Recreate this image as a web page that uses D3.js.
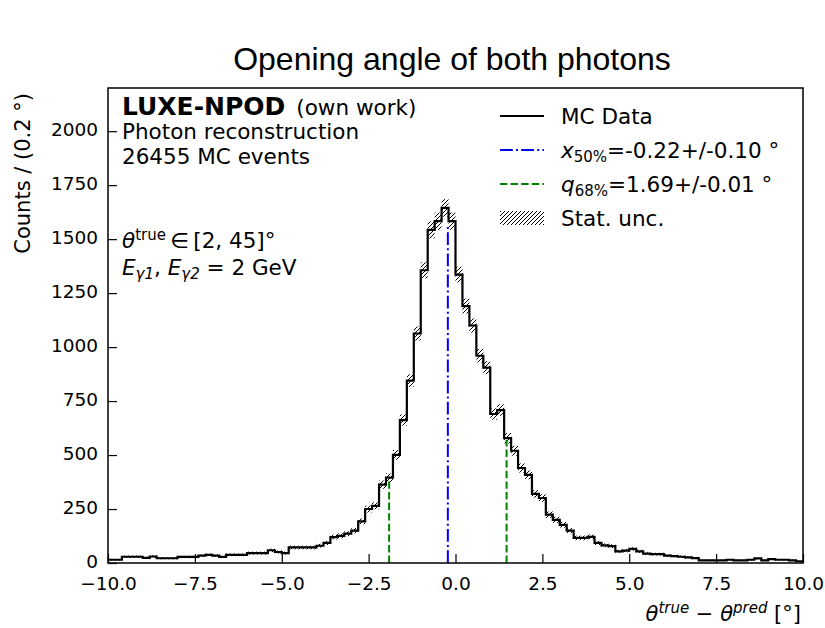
<!DOCTYPE html>
<html>
<head>
<meta charset="utf-8">
<script src="https://cdn.jsdelivr.net/npm/d3@7"></script>
<style>
  body { margin: 0; background: #fff; }
  text { font-family: "DejaVu Sans", sans-serif; fill: #000; }
</style>
</head>
<body>
<svg id="chart" width="825" height="628"></svg>
<script>
// Histogram of the opening-angle residual, 0.2 degree bins from -10 to 10
const binStart = -10;
const binWidth = 0.2;
const counts = [
  15, 15, 29, 29, 29, 24, 30, 22, 22, 22,
  28, 28, 28, 34, 38, 34, 28, 38, 38, 38,
  46, 46, 46, 59, 51, 46, 72, 72, 72, 72,
  80, 93, 120, 126, 136, 150, 193, 250, 265, 363,
  395, 501, 662, 845, 1063, 1356, 1543, 1583, 1645, 1583,
  1336, 1190, 1100, 960, 905, 690, 708, 578, 520, 440,
  408, 320, 301, 224, 200, 177, 150, 116, 116, 121,
  93, 82, 78, 54, 57, 65, 54, 43, 41, 41,
  34, 32, 29, 26, 23, 12, 12, 12, 12, 15,
  12, 12, 15, 21, 12, 18, 15, 15, 12, 8
];

// Summary statistics shown in the legend
const medianValue = -0.22, medianErr = 0.10;
const q68Value = 1.69, q68Err = 0.01;
// Heights the marker lines are drawn up to
const medianLineTop = 1560;
const q68LineTops = [385, 570];

const nEvents = 26455;

const xMajorTicks = [-10, -7.5, -5, -2.5, 0, 2.5, 5, 7.5, 10];
const yMajorTicks = [0, 250, 500, 750, 1000, 1250, 1500, 1750, 2000];

const W = 825, H = 628;
const margin = { left: 108, right: 22, top: 88, bottom: 65 };
const plotW = W - margin.left - margin.right;
const plotH = H - margin.top - margin.bottom;

const svg = d3.select("#chart");

const x = d3.scaleLinear().domain([-10, 10]).range([margin.left, margin.left + plotW]);
const y = d3.scaleLinear().domain([0, 2200]).range([margin.top + plotH, margin.top]);

// Hatch pattern for the statistical uncertainty band
const defs = svg.append("defs");
const pat = defs.append("pattern")
  .attr("id", "hatch")
  .attr("patternUnits", "userSpaceOnUse")
  .attr("width", 4).attr("height", 4);
pat.append("path")
  .attr("d", "M-1,1 L1,-1 M0,4 L4,0 M3,5 L5,3")
  .attr("stroke", "#000").attr("stroke-width", 1);

defs.append("clipPath").attr("id", "plotClip")
  .append("rect")
  .attr("x", margin.left).attr("y", margin.top)
  .attr("width", plotW).attr("height", plotH);

const bins = counts.map((c, i) => ({
  x0: binStart + i * binWidth,
  x1: binStart + (i + 1) * binWidth,
  n: c
}));

const plot = svg.append("g").attr("clip-path", "url(#plotClip)");

// Stat. unc. band: +/- sqrt(N) per bin
plot.append("g").selectAll("rect")
  .data(bins)
  .join("rect")
  .attr("x", d => x(d.x0))
  .attr("width", d => x(d.x1) - x(d.x0))
  .attr("y", d => y(d.n + Math.sqrt(d.n)))
  .attr("height", d => y(d.n - Math.sqrt(d.n)) - y(d.n + Math.sqrt(d.n)))
  .attr("fill", "url(#hatch)");

// Step outline of the histogram
const stepPts = [[bins[0].x0, 0]];
bins.forEach(d => { stepPts.push([d.x0, d.n]); stepPts.push([d.x1, d.n]); });
stepPts.push([bins[bins.length - 1].x1, 0]);
const line = d3.line().x(d => x(d[0])).y(d => y(d[1]));
plot.append("path")
  .attr("d", line(stepPts))
  .attr("fill", "none")
  .attr("stroke", "#000")
  .attr("stroke-width", 2.2)
  .attr("stroke-linejoin", "miter");

// Median marker
plot.append("line")
  .attr("x1", x(medianValue)).attr("x2", x(medianValue))
  .attr("y1", y(0)).attr("y2", y(medianLineTop))
  .attr("stroke", "#0000ff").attr("stroke-width", 2)
  .attr("stroke-dasharray", "12.8,3.2,2,3.2");

// 68% quantile markers around the median
[medianValue - q68Value, medianValue + q68Value].forEach((v, i) => {
  plot.append("line")
    .attr("x1", x(v)).attr("x2", x(v))
    .attr("y1", y(0)).attr("y2", y(q68LineTops[i]))
    .attr("stroke", "#008000").attr("stroke-width", 2)
    .attr("stroke-dasharray", "7.4,3.2");
});

// Axes with inward ticks
const xMinor = d3.range(-10, 10.001, 0.5);
const yMinor = d3.range(0, 2200.001, 50);

const gx = svg.append("g").attr("transform", `translate(0,${margin.top + plotH})`);
gx.call(d3.axisBottom(x).tickValues(xMinor).tickSize(-5).tickFormat(""));
gx.call(d3.axisBottom(x).tickValues(xMajorTicks).tickSize(-9).tickPadding(14).tickFormat(d3.format(".1f")));
gx.selectAll(".domain").remove();
gx.selectAll("line").attr("stroke", "#000").attr("stroke-width", 1.2);
gx.selectAll("text").attr("font-size", 18.5).attr("font-family", "DejaVu Sans").attr("fill", "#000");

const gy = svg.append("g").attr("transform", `translate(${margin.left},0)`);
gy.call(d3.axisLeft(y).tickValues(yMinor).tickSize(-5).tickFormat(""));
gy.call(d3.axisLeft(y).tickValues(yMajorTicks).tickSize(-9).tickPadding(10).tickFormat(d3.format("d")));
gy.selectAll(".domain").remove();
gy.selectAll("line").attr("stroke", "#000").attr("stroke-width", 1.2);
gy.selectAll("text").attr("font-size", 18.5).attr("font-family", "DejaVu Sans").attr("fill", "#000")
  .attr("dy", "0.26em");

// Frame
svg.append("rect")
  .attr("x", margin.left).attr("y", margin.top)
  .attr("width", plotW).attr("height", plotH)
  .attr("fill", "none").attr("stroke", "#000").attr("stroke-width", 1.5);

// Title
svg.append("text")
  .attr("x", 452).attr("y", 70)
  .attr("text-anchor", "middle")
  .style("font-family", "'Liberation Sans', Arial, sans-serif")
  .attr("font-size", 32)
  .text("Opening angle of both photons");

// Axis labels
svg.append("text")
  .attr("transform", `translate(30,${margin.top + 5}) rotate(-90)`)
  .attr("text-anchor", "end")
  .attr("font-size", 21)
  .text("Counts / (0.2 °)");

const xl = svg.append("text")
  .attr("x", margin.left + plotW - 2).attr("y", 621)
  .attr("text-anchor", "end")
  .attr("font-size", 21);
xl.append("tspan").attr("font-style", "italic").text("θ");
xl.append("tspan").attr("font-style", "italic").attr("font-size", 15).attr("dy", -8).text("true");
xl.append("tspan").attr("dy", 8).text(" − ");
xl.append("tspan").attr("font-style", "italic").text("θ");
xl.append("tspan").attr("font-style", "italic").attr("font-size", 15).attr("dy", -8).text("pred");
xl.append("tspan").attr("dy", 8).text(" [°]");

// Experiment label and selection text
const lx = 122;
const t1 = svg.append("text").attr("x", lx).attr("y", 115)
  .attr("font-size", 25).attr("font-weight", "bold").text("LUXE-NPOD");
const t1w = t1.node().getComputedTextLength();
svg.append("text").attr("x", lx + t1w + 11).attr("y", 115)
  .attr("font-size", 21.5).text("(own work)");
svg.append("text").attr("x", lx).attr("y", 139)
  .attr("font-size", 21.5).text("Photon reconstruction");
svg.append("text").attr("x", lx).attr("y", 164)
  .attr("font-size", 21.5).text(`${nEvents} MC events`);

const th = svg.append("text").attr("x", lx).attr("y", 248).attr("font-size", 21.5);
th.append("tspan").attr("font-style", "italic").text("θ");
th.append("tspan").attr("font-size", 15).attr("dy", -8).text("true");
th.append("tspan").attr("dy", 8).text("\u2009∈\u2009[2, 45]°");

const en = svg.append("text").attr("x", lx).attr("y", 275).attr("font-size", 21.5);
en.append("tspan").attr("font-style", "italic").text("E");
en.append("tspan").attr("font-style", "italic").attr("font-size", 15).attr("dy", 4).text("γ1");
en.append("tspan").attr("dy", -4).text(", ");
en.append("tspan").attr("font-style", "italic").text("E");
en.append("tspan").attr("font-style", "italic").attr("font-size", 15).attr("dy", 4).text("γ2");
en.append("tspan").attr("dy", -4).text(" = 2 GeV");

// Legend
const lgX0 = 500, lgX1 = 544, lgTx = 561;
const rows = [116, 150, 184, 218];

svg.append("line").attr("x1", lgX0).attr("x2", lgX1).attr("y1", rows[0]).attr("y2", rows[0])
  .attr("stroke", "#000").attr("stroke-width", 2.2);
svg.append("text").attr("x", lgTx).attr("y", rows[0] + 8).attr("font-size", 21.5).text("MC Data");

svg.append("line").attr("x1", lgX0).attr("x2", lgX1).attr("y1", rows[1]).attr("y2", rows[1])
  .attr("stroke", "#0000ff").attr("stroke-width", 2).attr("stroke-dasharray", "12.8,3.2,2,3.2");
const l2 = svg.append("text").attr("x", lgTx).attr("y", rows[1] + 8).attr("font-size", 21.5);
l2.append("tspan").attr("font-style", "italic").text("x");
l2.append("tspan").attr("font-size", 15).attr("dy", 4).text("50%");
l2.append("tspan").attr("dy", -4).text(`=${medianValue.toFixed(2)}+/-${medianErr.toFixed(2)} °`);

svg.append("line").attr("x1", lgX0).attr("x2", lgX1).attr("y1", rows[2]).attr("y2", rows[2])
  .attr("stroke", "#008000").attr("stroke-width", 2).attr("stroke-dasharray", "7.4,3.2");
const l3 = svg.append("text").attr("x", lgTx).attr("y", rows[2] + 8).attr("font-size", 21.5);
l3.append("tspan").attr("font-style", "italic").text("q");
l3.append("tspan").attr("font-size", 15).attr("dy", 4).text("68%");
l3.append("tspan").attr("dy", -4).text(`=${q68Value.toFixed(2)}+/-${q68Err.toFixed(2)} °`);

svg.append("rect").attr("x", lgX0).attr("y", rows[3] - 7).attr("width", lgX1 - lgX0).attr("height", 14)
  .attr("fill", "url(#hatch)");
svg.append("text").attr("x", lgTx).attr("y", rows[3] + 8).attr("font-size", 21.5).text("Stat. unc.");
</script>
</body>
</html>
